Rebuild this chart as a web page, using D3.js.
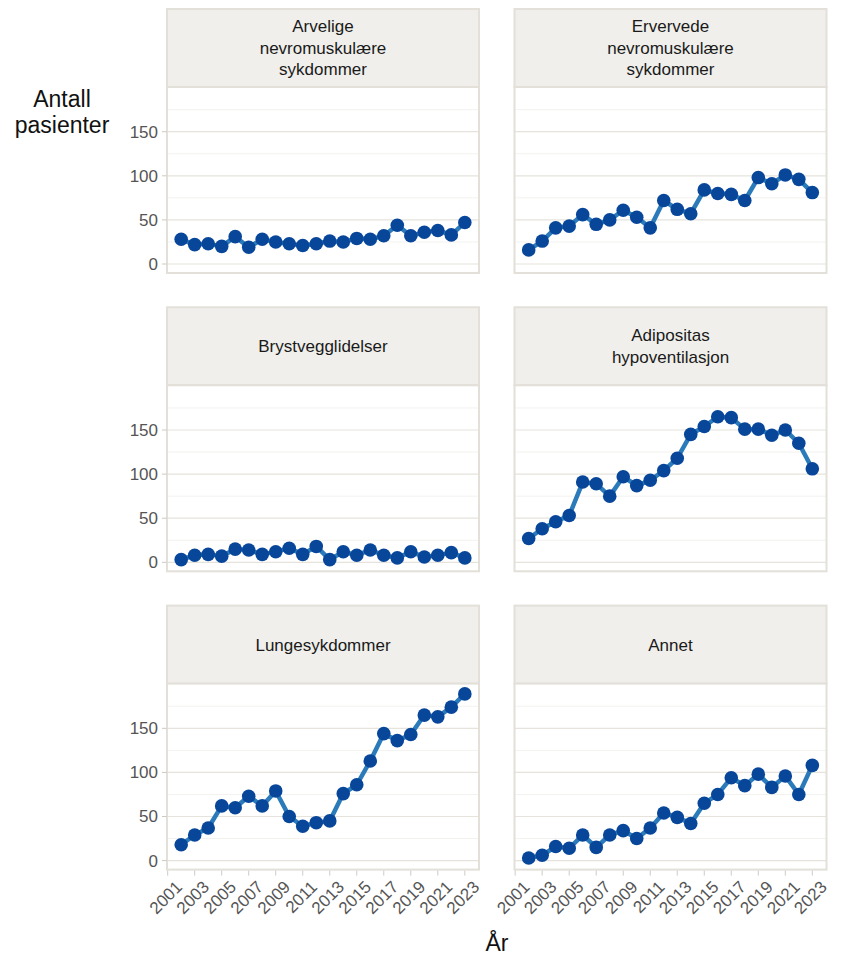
<!DOCTYPE html>
<html>
<head>
<meta charset="utf-8">
<script src="https://cdn.jsdelivr.net/npm/d3@7"></script>
<style>
    body { margin: 0; background: #fff; }
    svg { font-family: 'Liberation Sans', Arial, sans-serif; }
</style>
</head>
<body>
<div id="chart"></div>
<script>
const years = d3.range(2002, 2024);
const xTicks = [2001, 2003, 2005, 2007, 2009, 2011, 2013, 2015, 2017, 2019, 2021, 2023];
const yTicks = [0, 50, 100, 150];
const yMinor = [25, 75, 125, 175];

const categories = [
    ['Arvelige', 'nevromuskulære', 'sykdommer'],
    ['Ervervede', 'nevromuskulære', 'sykdommer'],
    ['Brystvegglidelser'],
    ['Adipositas', 'hypoventilasjon'],
    ['Lungesykdommer'],
    ['Annet']
];

const arvelige = [28, 22, 23, 20, 31, 19, 28, 25, 23, 21, 23, 26, 25, 29, 28, 32, 44, 32, 36, 38, 33, 47];
const ervervede = [16, 26, 41, 43, 56, 45, 50, 61, 53, 41, 72, 62, 57, 84, 80, 79, 72, 98, 91, 101, 96, 81];
const brystvegg = [3, 8, 9, 7, 15, 14, 9, 12, 16, 9, 18, 3, 12, 8, 14, 8, 5, 12, 6, 8, 11, 5];
const adipositas = [27, 38, 46, 53, 91, 89, 75, 97, 87, 93, 104, 118, 145, 154, 165, 164, 151, 151, 144, 150, 135, 106];
const lunge = [18, 29, 37, 62, 60, 73, 62, 79, 50, 39, 43, 45, 76, 86, 113, 144, 136, 143, 165, 163, 174, 189];
const annet = [3, 6, 16, 14, 29, 15, 29, 34, 25, 37, 54, 49, 42, 65, 75, 94, 85, 98, 83, 96, 75, 108];

const series = [arvelige, ervervede, brystvegg, adipositas, lunge, annet];

const W = 841, H = 957;
const colX = [167, 514.5];
const rowY = [9, 307.3, 605.6];
const panelW = 312;
const stripH = 78;
const panelH = 186;

const borderCol = '#e3e0d9';
const lineCol = '#2b7bba';
const pointCol = '#08469a';

const svg = d3.select('#chart').append('svg')
    .attr('width', W)
    .attr('height', H);

const x = d3.scaleLinear().domain([2000.95, 2024.05]).range([0, panelW]);
const y = d3.scaleLinear().domain([-10.2, 200.7]).range([panelH, 0]);

const line = d3.line()
    .x((d, i) => x(years[i]))
    .y(d => y(d));

categories.forEach((label, k) => {
    const col = k % 2;
    const row = Math.floor(k / 2);
    const g = svg.append('g')
        .attr('transform', `translate(${colX[col]},${rowY[row]})`);

    // strip
    g.append('rect')
        .attr('x', 0).attr('y', 0)
        .attr('width', panelW).attr('height', stripH)
        .attr('fill', '#f0efeb')
        .attr('stroke', borderCol)
        .attr('stroke-width', 2);

    const lh = 21.5;
    const t = g.append('text')
        .attr('text-anchor', 'middle')
        .attr('font-size', 17)
        .attr('fill', '#1a1a1a');
    label.forEach((s, j) => {
        t.append('tspan')
            .attr('x', panelW / 2)
            .attr('y', stripH / 2 + (j - (label.length - 1) / 2) * lh)
            .attr('dy', '0.35em')
            .text(s);
    });

    const p = g.append('g').attr('transform', `translate(0,${stripH})`);

    p.append('rect')
        .attr('width', panelW).attr('height', panelH)
        .attr('fill', '#fff');

    p.selectAll('.minor')
        .data(yMinor)
        .enter()
        .append('line')
        .attr('x1', 0).attr('x2', panelW)
        .attr('y1', d => y(d)).attr('y2', d => y(d))
        .attr('stroke', '#f3f2ef')
        .attr('stroke-width', 1);

    p.selectAll('.major')
        .data(yTicks)
        .enter()
        .append('line')
        .attr('x1', 0).attr('x2', panelW)
        .attr('y1', d => y(d)).attr('y2', d => y(d))
        .attr('stroke', '#e6e3dd')
        .attr('stroke-width', 1.2);

    p.append('rect')
        .attr('width', panelW).attr('height', panelH)
        .attr('fill', 'none')
        .attr('stroke', borderCol)
        .attr('stroke-width', 2);

    p.append('path')
        .datum(series[k])
        .attr('fill', 'none')
        .attr('stroke', lineCol)
        .attr('stroke-width', 4.5)
        .attr('stroke-linejoin', 'round')
        .attr('d', line);

    p.selectAll('circle')
        .data(series[k])
        .enter()
        .append('circle')
        .attr('cx', (d, i) => x(years[i]))
        .attr('cy', d => y(d))
        .attr('r', 6.8)
        .attr('fill', pointCol);

    // y axis only on left column
    if (col === 0) {
        const ya = p.append('g');
        ya.selectAll('line')
            .data(yTicks)
            .enter()
            .append('line')
            .attr('x1', -5).attr('x2', 0)
            .attr('y1', d => y(d)).attr('y2', d => y(d))
            .attr('stroke', '#cfcbc3');
        ya.selectAll('text')
            .data(yTicks)
            .enter()
            .append('text')
            .attr('x', -9)
            .attr('y', d => y(d))
            .attr('dy', '0.35em')
            .attr('text-anchor', 'end')
            .attr('font-size', 17)
            .attr('fill', '#555')
            .text(d => d);
    }

    // x axis only on bottom row
    if (row === 2) {
        const xa = p.append('g').attr('transform', `translate(0,${panelH})`);
        xa.selectAll('line')
            .data(xTicks)
            .enter()
            .append('line')
            .attr('x1', d => x(d)).attr('x2', d => x(d))
            .attr('y1', 1).attr('y2', 6)
            .attr('stroke', '#cfcbc3');
        xa.selectAll('text')
            .data(xTicks)
            .enter()
            .append('text')
            .attr('transform', d => `translate(${x(d) + 7},${10}) rotate(-45)`)
            .attr('dy', '0.71em')
            .attr('text-anchor', 'end')
            .attr('font-size', 17)
            .attr('fill', '#555')
            .text(d => d);
    }
});

// axis titles
svg.append('text')
    .attr('text-anchor', 'middle')
    .attr('font-size', 23)
    .attr('fill', '#111')
    .selectAll('tspan')
    .data(['Antall', 'pasienter'])
    .enter()
    .append('tspan')
    .attr('x', 62)
    .attr('y', (d, i) => 107 + i * 26)
    .text(d => d);

svg.append('text')
    .attr('x', 497)
    .attr('y', 951)
    .attr('text-anchor', 'middle')
    .attr('font-size', 23)
    .attr('fill', '#111')
    .text('År');
</script>
</body>
</html>
